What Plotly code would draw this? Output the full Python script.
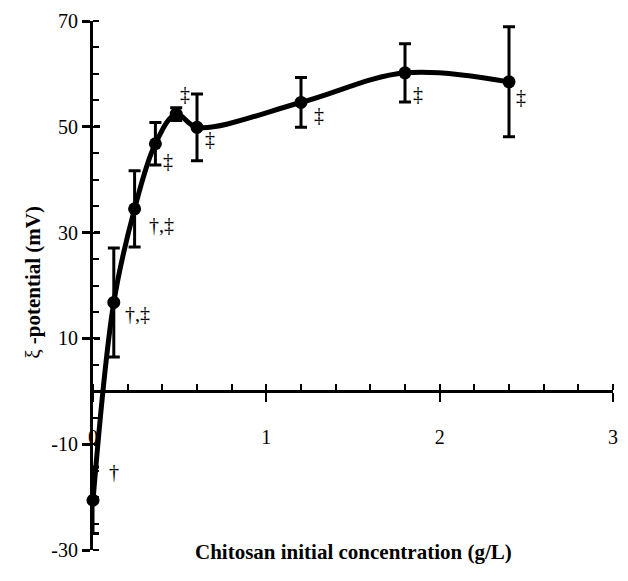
import plotly.graph_objects as go

# ---- data ----
conc = [0.0, 0.12, 0.24, 0.36, 0.48, 0.60, 1.20, 1.80, 2.40]
zeta = [-20.6, 16.8, 34.5, 46.8, 52.4, 49.9, 54.6, 60.2, 58.5]
zeta_err = [6.3, 10.3, 7.2, 4.0, 1.2, 6.3, 4.7, 5.5, 10.4]
sig_marks = ["†", "†,‡", "†,‡", "‡", "‡", "‡", "‡", "‡", "‡"]

x_tickvals = [0, 1, 2, 3]
x_ticktext = ["0", "1", "2", "3"]
y_tickvals = [-30, -10, 10, 30, 50, 70]
y_ticktext = ["-30", "-10", "10", "30", "50", "70"]

x_title = "Chitosan initial concentration (g/L)"
y_title = "ξ <b>-potential (mV)</b>"

# pixel offsets of significance marks relative to their points
mark_offsets = [(21, 28), (24, -12), (27, -16), (13, -17), (9, 20),
                (13, -12), (18, -13), (13, -21), (12, -15)]

FONT = "Liberation Serif"

fig = go.Figure()
fig.add_trace(go.Scatter(
    x=conc, y=zeta,
    mode="lines+markers",
    line=dict(color="black", width=5, shape="spline", smoothing=1),
    marker=dict(color="black", size=13),
    error_y=dict(type="data", array=zeta_err, visible=True,
                 color="black", thickness=3, width=6),
    cliponaxis=False,
    showlegend=False,
))

annotations = []
for xv, yv, m, (dx, dy) in zip(conc, zeta, sig_marks, mark_offsets):
    annotations.append(dict(
        x=xv, y=yv, xref="x", yref="y", text=m, showarrow=False,
        xshift=dx, yshift=dy, xanchor="center", yanchor="middle",
        font=dict(family=FONT, size=20, color="black")))

annotations.append(dict(
    x=0.5, y=0, xref="paper", yref="paper", text="<b>" + x_title + "</b>",
    showarrow=False, yshift=-2, xanchor="center", yanchor="middle",
    font=dict(family=FONT, size=21, color="black")))
annotations.append(dict(
    x=0, y=0.505, xref="paper", yref="paper", text=y_title,
    showarrow=False, xshift=-60, xanchor="center", yanchor="middle",
    textangle=-90, font=dict(family=FONT, size=21, color="black")))

fig.update_layout(
    width=620, height=573,
    margin=dict(l=85, r=15, t=13, b=31),
    paper_bgcolor="white", plot_bgcolor="white",
    font=dict(family=FONT, size=20, color="black"),
    annotations=annotations,
    xaxis=dict(
        range=[0, 3], anchor="free", position=0.3,
        showline=True, linecolor="black", linewidth=3,
        showgrid=False, zeroline=False, automargin=False,
        ticks="outside", ticklen=9, tickwidth=2, tickcolor="black",
        tickvals=x_tickvals, ticktext=x_ticktext,
        ticklabelstandoff=18,
        minor=dict(ticks="inside", dtick=0.2, ticklen=6, tickwidth=2,
                   tickcolor="black", showgrid=False),
    ),
    xaxis2=dict(
        range=[0, 3], overlaying="x", anchor="free", position=0.3,
        showline=False, showgrid=False, zeroline=False, automargin=False,
        ticks="inside", ticklen=5, tickwidth=2, tickcolor="black",
        tickvals=x_tickvals, showticklabels=False,
    ),
    yaxis=dict(
        range=[-30, 70],
        showline=True, linecolor="black", linewidth=3,
        showgrid=False, zeroline=False, automargin=False,
        ticks="outside", ticklen=8, tickwidth=3, tickcolor="black",
        tickvals=y_tickvals, ticktext=y_ticktext,
        minor=dict(ticks="inside", dtick=5, tick0=-30, ticklen=6, tickwidth=2,
                   tickcolor="black", showgrid=False),
    ),
    yaxis2=dict(
        range=[-30, 70], overlaying="y", anchor="free", position=0,
        showline=False, showgrid=False, zeroline=False, automargin=False,
        ticks="inside", ticklen=6, tickwidth=3, tickcolor="black",
        tickvals=y_tickvals, showticklabels=False,
    ),
)

# invisible trace to activate the overlay axes
fig.add_trace(go.Scatter(x=[None], y=[None], xaxis="x2", yaxis="y2",
                         showlegend=False, hoverinfo="skip"))

fig.write_html("out.html")
